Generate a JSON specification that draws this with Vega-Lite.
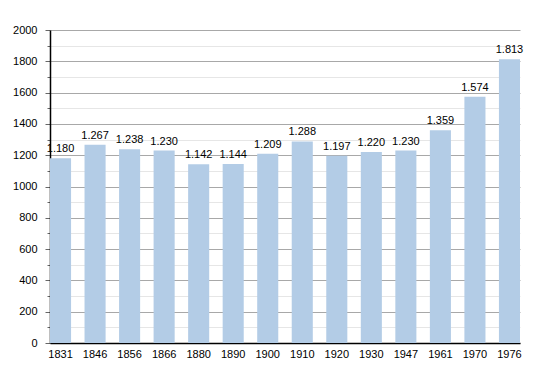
{
  "$schema": "https://vega.github.io/schema/vega-lite/v6.json",
  "width": 470,
  "height": 313,
  "autosize": {"type": "none"},
  "padding": {"left": 50, "top": 30, "right": 30, "bottom": 30},
  "background": "white",
  "config": {
    "locale": {"number": {"decimal": ",", "thousands": ".", "grouping": [3], "currency": ["", ""]}},
    "font": "Liberation Sans",
    "view": {"stroke": null}
  },
  "data": {"values": [
    {"year": "1831", "pop": 1180},
    {"year": "1846", "pop": 1267},
    {"year": "1856", "pop": 1238},
    {"year": "1866", "pop": 1230},
    {"year": "1880", "pop": 1142},
    {"year": "1890", "pop": 1144},
    {"year": "1900", "pop": 1209},
    {"year": "1910", "pop": 1288},
    {"year": "1920", "pop": 1197},
    {"year": "1930", "pop": 1220},
    {"year": "1947", "pop": 1230},
    {"year": "1961", "pop": 1359},
    {"year": "1970", "pop": 1574},
    {"year": "1976", "pop": 1813}
  ]},
  "encoding": {
    "x": {
      "field": "year", "type": "ordinal", "sort": null,
      "scale": {"paddingInner": 0.39, "paddingOuter": 0},
      "axis": {"title": null, "labelAngle": 0, "labelFontSize": 11, "labelColor": "#000", "domainColor": "#000", "domainWidth": 1.5, "ticks": false, "labelPadding": 5}
    }
  },
  "layer": [
    {
      "mark": {"type": "bar", "color": "#b3cce6", "opacity": 0},
      "encoding": {
        "y": {
          "field": "pop", "type": "quantitative",
          "scale": {"domain": [0, 2000], "nice": false},
          "axis": {"title": null, "values": [100, 300, 500, 700, 900, 1100, 1300, 1500, 1700, 1900], "labels": false, "domain": false, "tickSize": 3, "tickColor": "#666", "grid": true, "gridColor": "#e6e6e6", "gridWidth": 1, "orient": "left"}
        }
      }
    },
    {
      "mark": {"type": "bar", "color": "#b3cce6"},
      "encoding": {
        "y": {
          "field": "pop", "type": "quantitative",
          "scale": {"domain": [0, 2000], "nice": false},
          "axis": {"title": null, "values": [0, 200, 400, 600, 800, 1000, 1200, 1400, 1600, 1800, 2000], "format": "d", "labelFontSize": 11, "labelColor": "#000", "domainColor": "#000", "domainWidth": 1.5, "tickSize": 5, "tickColor": "#666", "labelPadding": 8, "grid": true, "gridColor": "#a8a8a8", "gridWidth": 1, "orient": "left"}
        }
      }
    },
    {
      "mark": {"type": "text", "baseline": "bottom", "dy": -4, "fontSize": 11, "color": "#000"},
      "encoding": {
        "y": {"field": "pop", "type": "quantitative", "axis": null},
        "text": {"field": "pop", "type": "quantitative", "format": ",d"}
      }
    }
  ],
  "resolve": {"axis": {"y": "independent"}}
}
